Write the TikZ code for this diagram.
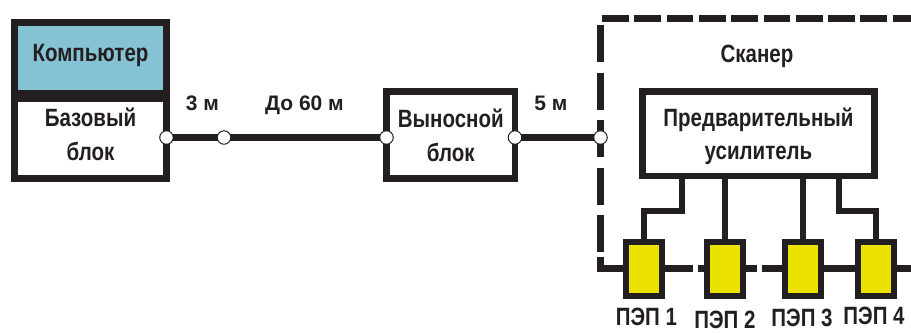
\documentclass[tikz,border=0pt]{standalone}
\usepackage{fontspec}
\setmainfont{Liberation Sans}
\newfontfamily\narrowfont{Liberation Sans}[FakeStretch=0.82]

\definecolor{ink}{RGB}{35,31,32}
\definecolor{pccyan}{RGB}{133,194,212}
\definecolor{pepyellow}{RGB}{236,226,0}

\begin{document}
\begin{tikzpicture}[x=1bp, y=-1bp]

%-------------------------------------------------
% Styles
%-------------------------------------------------
\tikzset{
  blockbox/.style={draw=ink, line width=6.5bp, fill=white, align=center, text=ink,
    inner sep=2bp, font=\narrowfont\bfseries\fontsize{25bp}{33.5bp}\selectfont},
  pcbox/.style={blockbox, fill=pccyan},
  pep/.style={draw=ink, line width=6bp, fill=pepyellow,
    minimum width=36bp, minimum height=54bp, inner sep=0pt},
  joint/.style={circle, draw=ink, line width=1bp, fill=white,
    minimum size=13.5bp, inner sep=0pt},
  cable/.style={draw=ink, line width=7.5bp},
  wire/.style={draw=ink, line width=6bp},
  scanline/.style={draw=ink, line width=6.5bp},
  lbl/.style={text=ink, anchor=base, inner sep=0pt,
    font=\narrowfont\bfseries\fontsize{25bp}{30bp}\selectfont},
  dist/.style={text=ink, anchor=base, inner sep=0pt,
    font=\bfseries\fontsize{21bp}{25bp}\selectfont}
}

\useasboundingbox (0,0) rectangle (911,332);

%-------------------------------------------------
% Scanner outline (dashed)
%-------------------------------------------------
\draw[scanline, dash pattern=on 26.7bp off 5.6bp] (602,18.5) -- (911,18.5);
\draw[scanline, dash pattern=on 37bp off 10.5bp] (600.5,25) -- (600.5,252);

%-------------------------------------------------
% Blocks
%-------------------------------------------------
\node[pcbox, minimum width=152bp, minimum height=70.5bp, text depth=9.5bp]
  (pc) at (90.5,57.75) {Компьютер};
\node[blockbox, minimum width=152bp, minimum height=79.5bp, text depth=9bp]
  (base) at (90.5,138.75) {Базовый\\блок};
\node[blockbox, minimum width=128.5bp, minimum height=87bp, text depth=0bp]
  (remote) at (450.75,135) {Выносной\\блок};
\node[blockbox, minimum width=232bp, minimum height=84.5bp, text depth=0bp]
  (pre) at (758.5,133.75) {Предварительный\\усилитель};

\node[lbl] (scan) at (757,62) {Сканер};

%-------------------------------------------------
% Cable with joints
%-------------------------------------------------
\coordinate (c1) at (166.5,137.5);
\coordinate (c2) at (224,137.5);
\coordinate (c3) at (386.5,137.5);
\coordinate (c4) at (515,137.5);
\coordinate (c5) at (600.5,137.5);

\draw[cable] (c1) -- (c2) -- (c3);
\draw[cable] (c4) -- (c5);

\foreach \n in {1,...,5} {
  \node[joint] (j\n) at (c\n) {};
}

% Cable lengths
\node[dist] (d1) at (202.5,110) {3 м};
\node[dist] (d2) at (304.5,110) {До 60 м};
\node[dist] (d3) at (551,110) {5 м};

%-------------------------------------------------
% Transducers
%-------------------------------------------------
\foreach \x/\n in {644/1, 724.5/2, 803/3, 876/4} {
  \node[pep] (pep\n) at (\x,268.5) {};
}
\foreach \x/\n/\y in {646.5/1/325, 725/2/328, 802/3/326, 874/4/324} {
  \node[lbl] (pl\n) at (\x,\y) {ПЭП \n};
}

% Preamplifier outputs
\draw[wire] ([xshift=-76.5bp]pre.south) -- ++(0,32) -| (pep1.north);
\draw[wire] (pre.south -| pep2.north) -- (pep2.north);
\draw[wire] (pre.south -| pep3.north) -- (pep3.north);
\draw[wire] ([xshift=80.5bp]pre.south) -- ++(0,32) -| (pep4.north);

% Bottom line through the transducers
\coordinate (corner) at (600.5,257);
\coordinate (rEnd) at (911,268.5);
\draw[wire, line width=6.5bp] (corner) |- (pep1);
\draw[wire, line width=6.5bp, dash pattern=on 28bp off 5bp] (pep1) -- (pep2);
\draw[wire, line width=6.5bp, dash pattern=on 11bp off 5bp on 60bp off 5bp] (pep2) -- (pep3);
\draw[wire, line width=6.5bp] (pep3) -- (pep4);
\draw[wire, line width=6.5bp] (pep4) -- (rEnd);

\end{tikzpicture}
\end{document}
